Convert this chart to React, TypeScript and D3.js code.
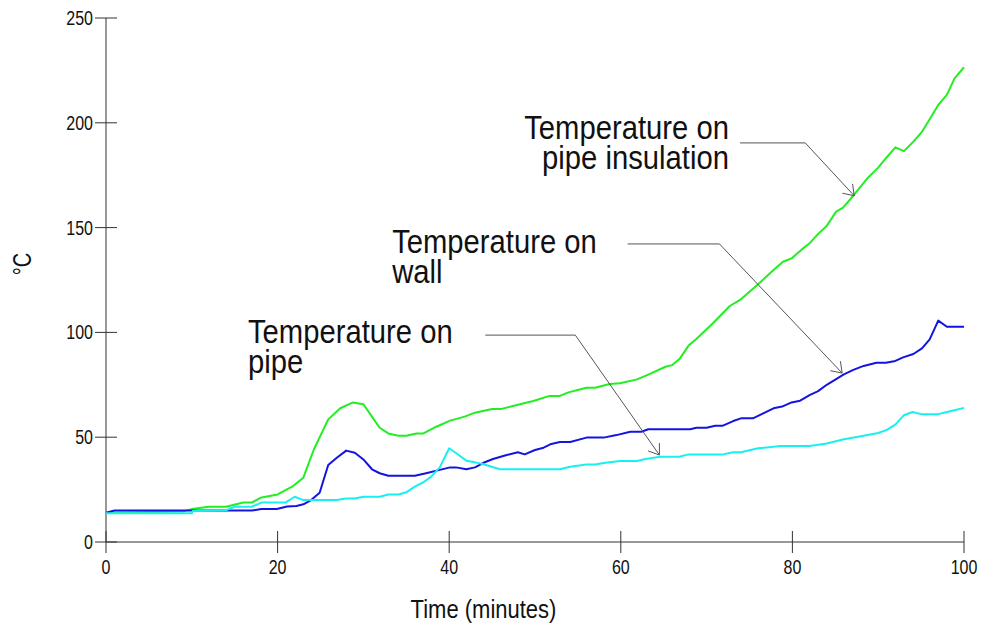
import React from "react";
import * as d3 from "d3";

const xTicks = [0, 20, 40, 60, 80, 100];
const yTicks = [0, 50, 100, 150, 200, 250];

// [time (min), temperature (°C)]
const insulationSeries: [number, number][] = [
  [0, 14], [9, 14.6], [10, 15.7], [12, 16.8], [14, 16.8], [16, 18.8], [17, 18.8], [18, 21.1], [20, 22.7],
  [21.8, 26.7], [23, 30.7], [24.2, 43.9], [25.9, 58.5], [27.3, 63.8], [28.8, 66.6], [30, 65.7], [31, 59.8],
  [31.9, 54.5], [32.9, 51.8], [34.1, 50.7], [35, 50.7], [36.2, 51.8], [37, 51.8], [38.5, 55], [40.1, 57.9],
  [41.8, 59.8], [43, 61.7], [45, 63.5], [46.1, 63.5], [47.9, 65.4], [49.8, 67.3], [51.7, 69.7], [52.9, 69.7],
  [53.9, 71.4], [55.2, 72.8], [56, 73.6], [57, 73.6], [58.7, 75.4], [59.9, 75.7], [61.9, 77.6], [63.4, 80.2],
  [65.2, 83.6], [66, 84.4], [66.9, 87.6], [67.9, 93.7], [68.8, 96.9], [70.8, 104.6], [72.7, 112.6],
  [73.9, 115.5], [76.2, 123.7], [77.8, 129.8], [78.9, 133.7], [79.9, 135.3], [81.1, 139.6], [82, 142.5],
  [83, 147], [84, 150.8], [85.1, 157.6], [85.9, 159.5], [87.1, 165.2], [88.8, 173.8], [90, 178.6],
  [90.9, 183.1], [92, 188.3], [93, 186.5], [94.1, 191], [95.1, 195.7], [96, 201.7], [97, 208.5],
  [98, 213.3], [98.9, 221.2], [100, 226.5],
];

const wallSeries: [number, number][] = [
  [0, 14], [1, 15], [17, 15], [18.1, 15.7], [19.9, 15.7], [21.1, 16.9], [22.2, 17.2], [23, 18], [23.8, 19.7],
  [24.9, 23.5], [25.9, 36.7], [26.9, 40.2], [28, 43.6], [29, 42.6], [30, 39.4], [31, 34.7], [31.9, 32.8],
  [32.9, 31.6], [36, 31.6], [37.3, 32.8], [38.9, 34.4], [40.1, 35.6], [40.8, 35.6], [42, 34.7], [43, 35.6],
  [44, 37.8], [45.1, 39.6], [46.7, 41.5], [48, 42.8], [48.8, 41.8], [50, 43.9], [51, 45], [51.9, 46.8],
  [52.9, 47.7], [54.1, 47.7], [56, 49.8], [58, 49.8], [59.5, 51], [61.1, 52.6], [62.4, 52.6], [63.2, 53.8],
  [68.1, 53.8], [68.8, 54.5], [70, 54.5], [71, 55.5], [71.9, 55.5], [73.1, 57.7], [74, 59], [75.4, 59],
  [76.6, 61.4], [77.8, 63.8], [78.8, 64.6], [79.9, 66.6], [80.9, 67.4], [82, 70.1], [83, 72], [84, 75],
  [85, 77.5], [86, 80], [87.1, 82.1], [88.3, 84], [89.8, 85.5], [90.9, 85.5], [92, 86.4], [92.9, 88.1],
  [94.1, 89.7], [95.1, 92.4], [96, 96.7], [97, 105.6], [98, 102.7], [100, 102.7],
];

const pipeSeries: [number, number][] = [
  [0, 13.7], [10, 13.7], [10.1, 14.8], [14.1, 15.3], [15, 16.8], [17, 16.8], [18.1, 18.8], [20.9, 18.8],
  [22, 21.6], [23, 20], [26.9, 20], [28, 20.8], [29, 20.8], [30, 21.6], [31.9, 21.6], [32.9, 22.7],
  [34.1, 22.7], [35, 23.7], [36, 26.4], [37, 28.5], [37.9, 31.2], [38.9, 35.6], [40, 44.7], [41.1, 41.5],
  [42, 38.8], [43, 38], [44, 37.1], [45.9, 34.7], [52.9, 34.7], [54.1, 35.9], [56, 37], [57, 37],
  [58.2, 37.8], [59.9, 38.6], [61.9, 38.6], [62.9, 39.6], [64.6, 40.7], [66.8, 40.7], [67.9, 41.8],
  [71.9, 41.8], [73.1, 42.8], [74, 42.8], [76, 44.7], [78.6, 45.8], [82, 45.8], [84, 47], [86, 49],
  [88, 50.5], [90, 52], [91, 53.5], [92, 56], [93, 60.5], [94, 62], [95, 61], [97, 61], [98, 62],
  [99, 63], [100, 64],
];

const seriesColors = ["#22ee22", "#1414e0", "#18f0f0"];

// annotations: text lines, anchor, text position (data), line start, elbow, tip (data)
const annotationLines = [
  ["Temperature on", "pipe insulation"],
  ["Temperature on", "wall"],
  ["Temperature on", "pipe"],
];
const annotationAnchors = ["end", "start", "start"];
const annotationTextPos: [number, number][] = [[72.6, 192.3], [33.35, 137.8], [16.55, 94.8]];
const annotationLineStart: [number, number][] = [[73.9, 190.4], [60.8, 142.2], [44.2, 98.7]];
const annotationElbow: [number, number][] = [[81.5, 190.4], [71.5, 142.2], [54.7, 98.7]];
const annotationTip: [number, number][] = [[87.2, 165.2], [85.8, 80.6], [64.5, 41.5]];

const FONT = "'Liberation Sans', Arial, Helvetica, sans-serif";

function SText({ x, y, size, sx = 0.86, anchor = "start", children, rotate = 0 }: any) {
  return (
    <text
      transform={`translate(${x},${y}) rotate(${rotate}) scale(${sx},1)`}
      fontSize={size}
      fontFamily={FONT}
      textAnchor={anchor}
      fill="#111"
    >
      {children}
    </text>
  );
}

export default function App() {
  const x = d3.scaleLinear().domain([0, 100]).range([106, 964]);
  const y = d3.scaleLinear().domain([0, 250]).range([542, 18]);
  const line = d3
    .line<[number, number]>()
    .x((d) => x(d[0]))
    .y((d) => y(d[1]));
  const allSeries = [insulationSeries, wallSeries, pipeSeries];
  const drawOrder = [0, 1, 2];

  return (
    <svg
      width={982}
      height={626}
      style={{ position: "absolute", left: 0, top: 0, background: "#fff" }}
    >
      <rect width={982} height={626} fill="#fff" />
      {/* axes */}
      <line x1={x(0)} x2={x(0)} y1={y(250)} y2={y(0)} stroke="#333" strokeWidth={1} />
      <line x1={x(0)} x2={x(100)} y1={y(0)} y2={y(0)} stroke="#333" strokeWidth={1} />
      {yTicks.map((t) => (
        <g key={"y" + t}>
          <line x1={x(0) - 11} x2={x(0) + 11} y1={y(t)} y2={y(t)} stroke="#333" strokeWidth={1} />
          <SText x={x(0) - 13} y={y(t) + 7} size={20} sx={0.8} anchor="end">
            {t}
          </SText>
        </g>
      ))}
      {xTicks.map((t) => (
        <g key={"x" + t}>
          <line x1={x(t)} x2={x(t)} y1={y(0) - 11} y2={y(0) + 11} stroke="#333" strokeWidth={1} />
          <SText x={x(t)} y={574} size={20} sx={0.8} anchor="middle">
            {t}
          </SText>
        </g>
      ))}
      <SText x={483.5} y={618} size={25} sx={0.88} anchor="middle">
        Time (minutes)
      </SText>
      <SText x={31} y={264} size={25} sx={0.8} anchor="middle" rotate={-90}>
        °C
      </SText>

      {/* series */}
      {drawOrder.map((i) => (
        <path
          key={"s" + i}
          d={line(allSeries[i]) || ""}
          fill="none"
          stroke={seriesColors[i]}
          strokeWidth={2}
          strokeLinejoin="round"
        />
      ))}

      {/* annotations */}
      {annotationLines.map((lines, i) => {
        const [tx, ty] = annotationTextPos[i];
        const s = annotationLineStart[i];
        const e = annotationElbow[i];
        const p = annotationTip[i];
        const px = x(p[0]);
        const py = y(p[1]);
        const ang = Math.atan2(py - y(e[1]), px - x(e[0]));
        const back = ang + Math.PI;
        const spread = (35 * Math.PI) / 180;
        const len = 12;
        const b1 = [px + len * Math.cos(back - spread), py + len * Math.sin(back - spread)];
        const b2 = [px + len * Math.cos(back + spread), py + len * Math.sin(back + spread)];
        return (
          <g key={"a" + i}>
            {lines.map((ln, j) => (
              <SText
                key={j}
                x={x(tx)}
                y={y(ty) + j * 30}
                size={34}
                sx={0.86}
                anchor={annotationAnchors[i]}
              >
                {ln}
              </SText>
            ))}
            <polyline
              points={`${x(s[0])},${y(s[1])} ${x(e[0])},${y(e[1])} ${px},${py}`}
              fill="none"
              stroke="#555"
              strokeWidth={1}
            />
            <polyline
              points={`${b1[0]},${b1[1]} ${px},${py} ${b2[0]},${b2[1]}`}
              fill="none"
              stroke="#555"
              strokeWidth={1}
            />
          </g>
        );
      })}
    </svg>
  );
}
